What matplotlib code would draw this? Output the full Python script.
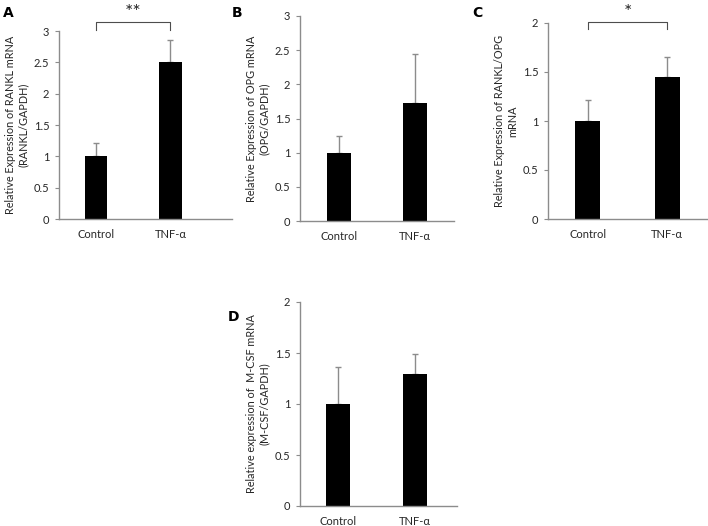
import matplotlib.pyplot as plt
from matplotlib.ticker import FuncFormatter

plt.rcParams['font.family'] = ['Lato', 'DejaVu Sans']

groups = ['Control', 'TNF-α']

# panel values (mean) and upper error (SD)
rankl_mean = [1.0, 2.5]
rankl_err = [0.21, 0.36]
opg_mean = [1.0, 1.72]
opg_err = [0.25, 0.73]
ratio_mean = [1.0, 1.45]
ratio_err = [0.21, 0.20]
mcsf_mean = [1.0, 1.29]
mcsf_err = [0.36, 0.20]

W, H = 708, 526
fig = plt.figure(figsize=(W / 100, H / 100), dpi=100)


def px_axes(x0, x1, ytop, ybot):
    ax = fig.add_axes([x0 / W, 1 - ybot / H, (x1 - x0) / W, (ybot - ytop) / H])
    ax.px = (x0, x1, ytop, ybot)
    return ax


def panel(ax, means, errs, ymax, ylabel, xlim, width, letter, lpos):
    x = range(len(groups))
    ax.bar(x, means, width=width, color='black', zorder=2)
    ax.errorbar(x, means, yerr=[[0, 0], errs], fmt='none', ecolor='#8c8c8c',
                elinewidth=1, capsize=2, capthick=1, zorder=1)
    ax.set_xlim(*xlim)
    ax.set_ylim(0, ymax)
    ax.set_yticks([i * 0.5 for i in range(int(ymax * 2) + 1)])
    ax.yaxis.set_major_formatter(FuncFormatter(lambda v, p: f'{v:g}'))
    ax.set_xticks(list(x))
    ax.set_xticklabels(groups)
    for s in ['top', 'right']:
        ax.spines[s].set_visible(False)
    for s in ['left', 'bottom']:
        ax.spines[s].set_color('#8c8c8c')
        ax.spines[s].set_linewidth(1)
    ax.tick_params(axis='x', length=0, pad=7, labelsize=8, colors='#262626')
    ax.tick_params(axis='y', length=3, width=0.8, color='#8c8c8c', pad=4,
                   labelsize=8, labelcolor='#262626')
    x0, x1, ytop, ybot = ax.px
    fig.text((x0 - 42) / W, 1 - (ytop + ybot) / 2 / H, ylabel, rotation=90,
             ha='center', va='center', multialignment='center',
             fontsize=7.8, color='#262626', linespacing=1.25)
    fig.text(lpos[0] / W, 1 - lpos[1] / H, letter, fontsize=10, fontweight='bold',
             fontfamily='DejaVu Sans', ha='left', va='center')


def bracket(ax, y, drop, label):
    ax.plot([0, 0, 1, 1], [y - drop, y, y, y - drop], color='#4d4d4d', lw=0.8,
            clip_on=False)
    ax.text(0.5, y + drop * 0.2, label, ha='center', va='bottom', fontsize=14,
            color='#262626', clip_on=False)


axA = px_axes(59, 232, 31, 219)
panel(axA, rankl_mean, rankl_err, 3,
      'Relative Expression of RANKL mRNA\n(RANKL/GAPDH)', (-0.5, 1.83), 0.3, 'A', (3, 13))
bracket(axA, 3.14, 0.13, '**')

axB = px_axes(300, 454, 16, 221)
panel(axB, opg_mean, opg_err, 3,
      'Relative Expression of OPG mRNA\n(OPG/GAPDH)', (-0.51, 1.51), 0.32, 'B', (232, 13))

axC = px_axes(548, 707, 23, 219)
panel(axC, ratio_mean, ratio_err, 2,
      'Relative Expression of RANKL/OPG\nmRNA', (-0.5, 1.5), 0.31, 'C', (472, 13))
bracket(axC, 2.01, 0.07, '*')

axD = px_axes(300, 457, 302, 506)
panel(axD, mcsf_mean, mcsf_err, 2,
      'Relative expression of  M-CSF mRNA\n(M-CSF/GAPDH)', (-0.49, 1.55), 0.31, 'D', (228, 317))

fig.savefig('out.png', dpi=100)
